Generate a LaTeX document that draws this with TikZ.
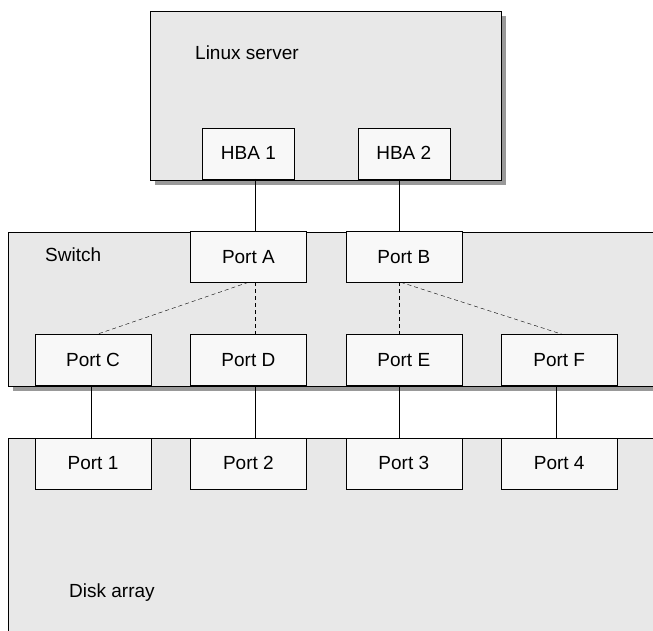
\documentclass[tikz,border=0pt]{standalone}
\usepackage{fontspec}
\setmainfont{Liberation Sans}
\usetikzlibrary{positioning, shadows}
\definecolor{boxgray}{HTML}{E8E8E8}
\definecolor{portgray}{HTML}{F8F8F8}
\definecolor{shadowgray}{HTML}{999999}
\tikzset{
	x=1pt, y=-1pt, % one unit is one pixel of the picture, y runs down
	line width=1.4pt,
	node distance=39pt, % gap between two neighbouring ports
	unit/.style={draw, fill=boxgray, anchor=north west, inner sep=0pt,
		drop shadow={shadow xshift=5pt, shadow yshift=-5pt, fill=shadowgray, opacity=1}}, % server, switch, disk array
	port/.style={draw, fill=portgray, minimum width=116pt, minimum height=51pt, inner sep=0pt},
	hba/.style={port, minimum width=92pt},
	label text/.style={anchor=west, inner sep=0pt},
	link/.style={dash pattern=on 4pt off 3pt}, % switch internal paths
}

\begin{document}
\begin{tikzpicture}[font=\fontsize{19}{22}\selectfont]
		\useasboundingbox (0,0) rectangle (653,630);
		\clip (0,0) rectangle (653,630);

		\node[unit, minimum width=351pt, minimum height=169pt](server) at (150,11){};
		\node[unit, minimum width=700pt, minimum height=154pt](switch) at (8,231.5){};
		\node[unit, minimum width=700pt, minimum height=250pt](disk) at (8,437.5){};

		\node[label text](serverlabel) at (195,53){Linux server};
		\node[label text](switchlabel) at (45,255){Switch};
		\node[label text](disklabel) at (69,593){Disk array};

		\node[port](pc) at (93,360){Port C};
		\node[port,right=of pc](pd){Port D};
		\node[port,right=of pd](pe){Port E};
		\node[port,right=of pe](pf){Port F};
		\node[port,above=52pt of pd](pa){Port A};
		\node[port,above=52pt of pe](pb){Port B};
		\node[hba,above=52pt of pa](hba1){HBA 1};
		\node[hba,above=52pt of pb](hba2){HBA 2};
		\node[port,below=52pt of pc](p1){Port 1};
		\node[port,right=of p1](p2){Port 2};
		\node[port,right=of p2](p3){Port 3};
		\node[port,right=of p3](p4){Port 4};

		\draw ([xshift=7pt]hba1.south) -- ([xshift=7pt]pa.north);
		\draw ([xshift=-5pt]hba2.south) -- ([xshift=-5pt]pb.north);

		\foreach \up/\down/\dx in {pc/p1/-2, pd/p2/7, pe/p3/-5, pf/p4/-3}
		{
			\draw ([xshift=\dx pt]\up.south) -- ([xshift=\dx pt]\down.north);
		}

		\draw[link] (pa.south) -- ([xshift=4pt]pc.north);
		\draw[link] ([xshift=7pt]pa.south) -- ([xshift=7pt]pd.north);
		\draw[link] ([xshift=-5pt]pb.south) -- ([xshift=-5pt]pe.north);
		\draw[link] ([xshift=-3pt]pb.south) -- ([xshift=3pt]pf.north);

	\end{tikzpicture}
\end{document}
